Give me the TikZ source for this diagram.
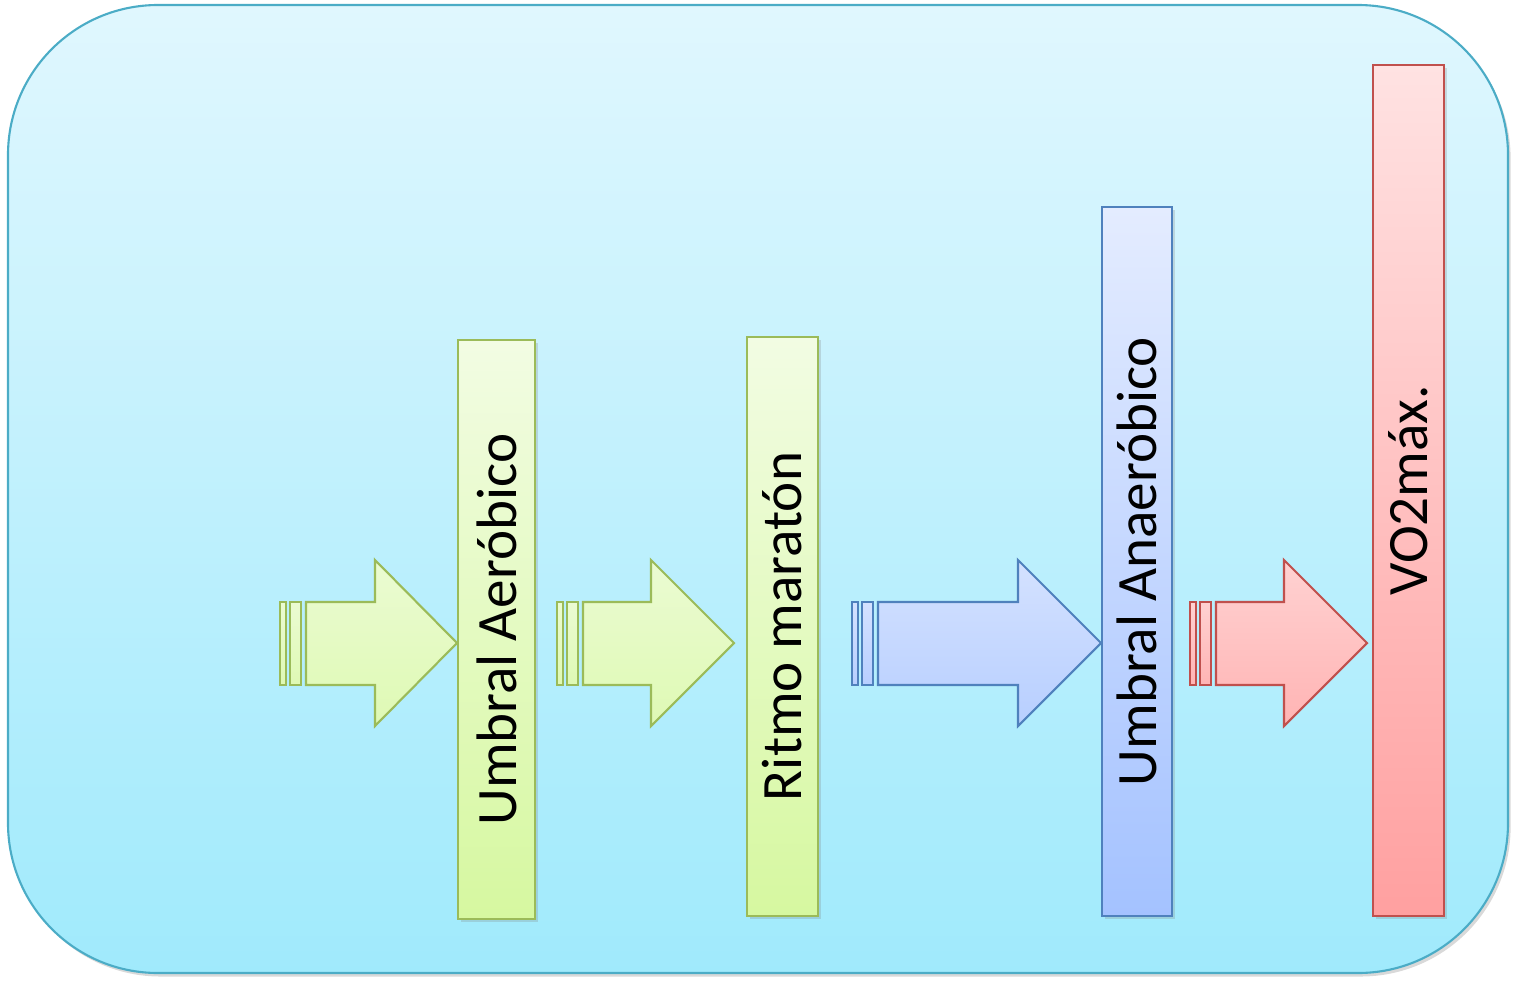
\documentclass[tikz,border=0pt]{standalone}
\usepackage{fontspec}
\setmainfont{Carlito}
\usetikzlibrary{shadows}
\definecolor{fondoborde}{HTML}{4BACC6}
\definecolor{fondoclaro}{HTML}{E0F7FE}
\definecolor{fondooscuro}{HTML}{A0EAFC}
\definecolor{verdeborde}{HTML}{9BBB59}
\definecolor{verdeclaro}{HTML}{F2FCE3}
\definecolor{verdeoscuro}{HTML}{D6F8A0}
\definecolor{azulborde}{HTML}{4F81BD}
\definecolor{azulclaro}{HTML}{E4ECFF}
\definecolor{azuloscuro}{HTML}{A4C2FF}
\definecolor{rojoborde}{HTML}{C0504D}
\definecolor{rojoclaro}{HTML}{FFE2E2}
\definecolor{rojooscuro}{HTML}{FFA0A0}
\begin{document}
\begin{tikzpicture}[x=0.02cm, y=-0.02cm,
        barra/.style={draw=#1borde, line width=1.2pt, top color=#1claro, bottom color=#1oscuro,
            anchor=north west, inner sep=0pt,
            drop shadow={shadow xshift=1.5pt, shadow yshift=-1.5pt, opacity=.25}},
        flecha/.style={draw=#1borde, line width=1.2pt, top color=#1claro!75!#1oscuro, bottom color=#1claro!30!#1oscuro},
        font=\fontsize{32.5}{39}\selectfont]
        %limites del dibujo
        \useasboundingbox (0,0) rectangle (1516,985);
        
        \draw[fondoborde, line width=1.2pt, top color=fondoclaro, bottom color=fondooscuro, rounded corners=3cm,
            drop shadow={shadow xshift=1.5pt, shadow yshift=-2pt, opacity=.3}] (8,5) rectangle (1508,973);
        
        \node[barra=verde, minimum width=1.54cm, minimum height=11.58cm] (aerobico) at (457,339) {\rotatebox{90}{Umbral Aeróbico}};
        \node[barra=verde, minimum width=1.42cm, minimum height=11.58cm] (maraton) at (746,336) {\rotatebox{90}{Ritmo maratón}};
        \node[barra=azul, minimum width=1.40cm, minimum height=14.18cm] (anaerobico) at (1101,206) {\rotatebox{90}{Umbral Anaeróbico}};
        \node[barra=rojo, minimum width=1.42cm, minimum height=17.02cm] (vodos) at (1372,64) {\rotatebox{90}{VO2máx.}};
        
        \foreach \s/\h/\t/\c in 
        {280/375/457/verde, 557/651/734/verde, 852/1018/1101/azul, 1190/1284/1367/rojo}
        {
            \draw[flecha=\c] (\s,602) rectangle (\s+6,685);
            \draw[flecha=\c] (\s+10,602) rectangle (\s+21,685);
            \draw[flecha=\c] (\s+26,602) -- (\h,602) -- (\h,560) -- (\t,643) -- (\h,726) -- (\h,685) -- (\s+26,685) -- cycle;
        };

    \end{tikzpicture}
\end{document}
